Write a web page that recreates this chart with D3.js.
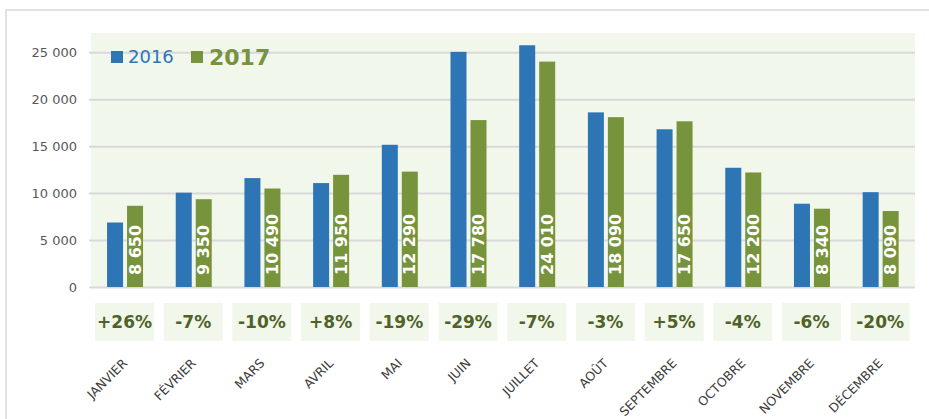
<!DOCTYPE html>
<html>
<head>
<meta charset="utf-8">
<script src="https://cdn.jsdelivr.net/npm/d3@7"></script>
<style>
  body { margin: 0; background: #fff; }
  svg { display: block; font-family: "DejaVu Sans", Verdana, sans-serif; }
</style>
</head>
<body>
<svg id="chart" width="929" height="419"></svg>
<script>
const months = ["JANVIER", "FÉVRIER", "MARS", "AVRIL", "MAI", "JUIN", "JUILLET", "AOÛT", "SEPTEMBRE", "OCTOBRE", "NOVEMBRE", "DÉCEMBRE"];
const values2016 = [6870, 10050, 11600, 11070, 15150, 25050, 25750, 18600, 16800, 12700, 8870, 10100];
const values2017 = [8650, 9350, 10490, 11950, 12290, 17780, 24010, 18090, 17650, 12200, 8340, 8090];
const changes = ["+26%", "-7%", "-10%", "+8%", "-19%", "-29%", "-7%", "-3%", "+5%", "-4%", "-6%", "-20%"];
const yTicks = [0, 5000, 10000, 15000, 20000, 25000];

const blue = "#2e75b6", green = "#77933c", darkGreen = "#4f6228";
const gridColor = "#d9d9d9", panelColor = "#f2f7ec";

const svg = d3.select("#chart");
const plot = { left: 90.7, right: 915, top: 33, bottom: 287 };

const fr = d3.formatLocale({ decimal: ",", thousands: " ", grouping: [3], currency: ["", " €"] });
const fmt = fr.format(",d");

// Scales
const x = d3.scaleBand().domain(months).range([plot.left, plot.right]).padding(0);
const y = d3.scaleLinear().domain([0, 25000]).range([plot.bottom, 52.3]);

// outer frame
svg.append("rect")
  .attr("x", 6).attr("y", 10).attr("width", 940).attr("height", 430)
  .attr("fill", "none").attr("stroke", gridColor).attr("stroke-width", 1.5);

// plot background
svg.append("rect")
  .attr("x", plot.left).attr("y", plot.top)
  .attr("width", plot.right - plot.left).attr("height", plot.bottom - plot.top)
  .attr("fill", panelColor);

// Y axis with gridlines
const yAxis = d3.axisLeft(y).tickValues(yTicks).tickFormat(fmt)
  .tickSize(-(plot.right - 89)).tickPadding(12);

const gy = svg.append("g")
  .attr("transform", `translate(89,0)`)
  .call(yAxis);
gy.select(".domain").remove();
gy.selectAll(".tick line").attr("stroke", gridColor).attr("stroke-width", 2);
gy.selectAll(".tick text")
  .attr("fill", "#595959")
  .style("font-size", "13px")
  .style("font-family", "DejaVu Sans, Verdana, sans-serif");

// Bars
const groups = svg.append("g").selectAll("g")
  .data(months)
  .enter()
  .append("g");

const center = m => x(m) + x.bandwidth() / 2;

groups.append("rect")
  .attr("x", d => center(d) - 18)
  .attr("width", 16)
  .attr("y", (d, i) => y(values2016[i]))
  .attr("height", (d, i) => y(0) - y(values2016[i]))
  .attr("fill", blue);

groups.append("rect")
  .attr("x", d => center(d) + 2)
  .attr("width", 16)
  .attr("y", (d, i) => y(values2017[i]))
  .attr("height", (d, i) => y(0) - y(values2017[i]))
  .attr("fill", green);

// value labels inside green bars
groups.append("text")
  .attr("transform", d => `translate(${center(d) + 10},${y(0) - 12}) rotate(-90)`)
  .attr("dy", "0.35em")
  .attr("text-anchor", "start")
  .attr("fill", "#fff")
  .style("font-weight", "bold")
  .style("font-size", "16px")
  .text((d, i) => fmt(values2017[i]));

// change boxes
groups.append("rect")
  .attr("x", d => center(d) - 30)
  .attr("y", 303)
  .attr("width", 59)
  .attr("height", 38)
  .attr("fill", panelColor);

groups.append("text")
  .attr("x", d => center(d) - 0.5)
  .attr("y", 322)
  .attr("dy", "0.35em")
  .attr("text-anchor", "middle")
  .attr("fill", darkGreen)
  .style("font-weight", "bold")
  .style("font-size", "17px")
  .text((d, i) => changes[i]);

// month labels
groups.append("text")
  .attr("transform", d => `translate(${center(d) + 3},364) rotate(-45)`)
  .attr("text-anchor", "end")
  .attr("fill", "#404040")
  .style("font-size", "12.5px")
  .text(d => d);

// Legend
svg.append("rect").attr("x", 111).attr("y", 51).attr("width", 12).attr("height", 12).attr("fill", blue);
svg.append("text").attr("x", 128).attr("y", 57).attr("dy", "0.35em")
  .attr("fill", blue).style("font-size", "18px").text("2016");
svg.append("rect").attr("x", 191).attr("y", 51).attr("width", 12).attr("height", 12).attr("fill", green);
svg.append("text").attr("x", 209).attr("y", 57).attr("dy", "0.35em")
  .attr("fill", green).style("font-size", "22px").style("font-weight", "bold").text("2017");
</script>
</body>
</html>
